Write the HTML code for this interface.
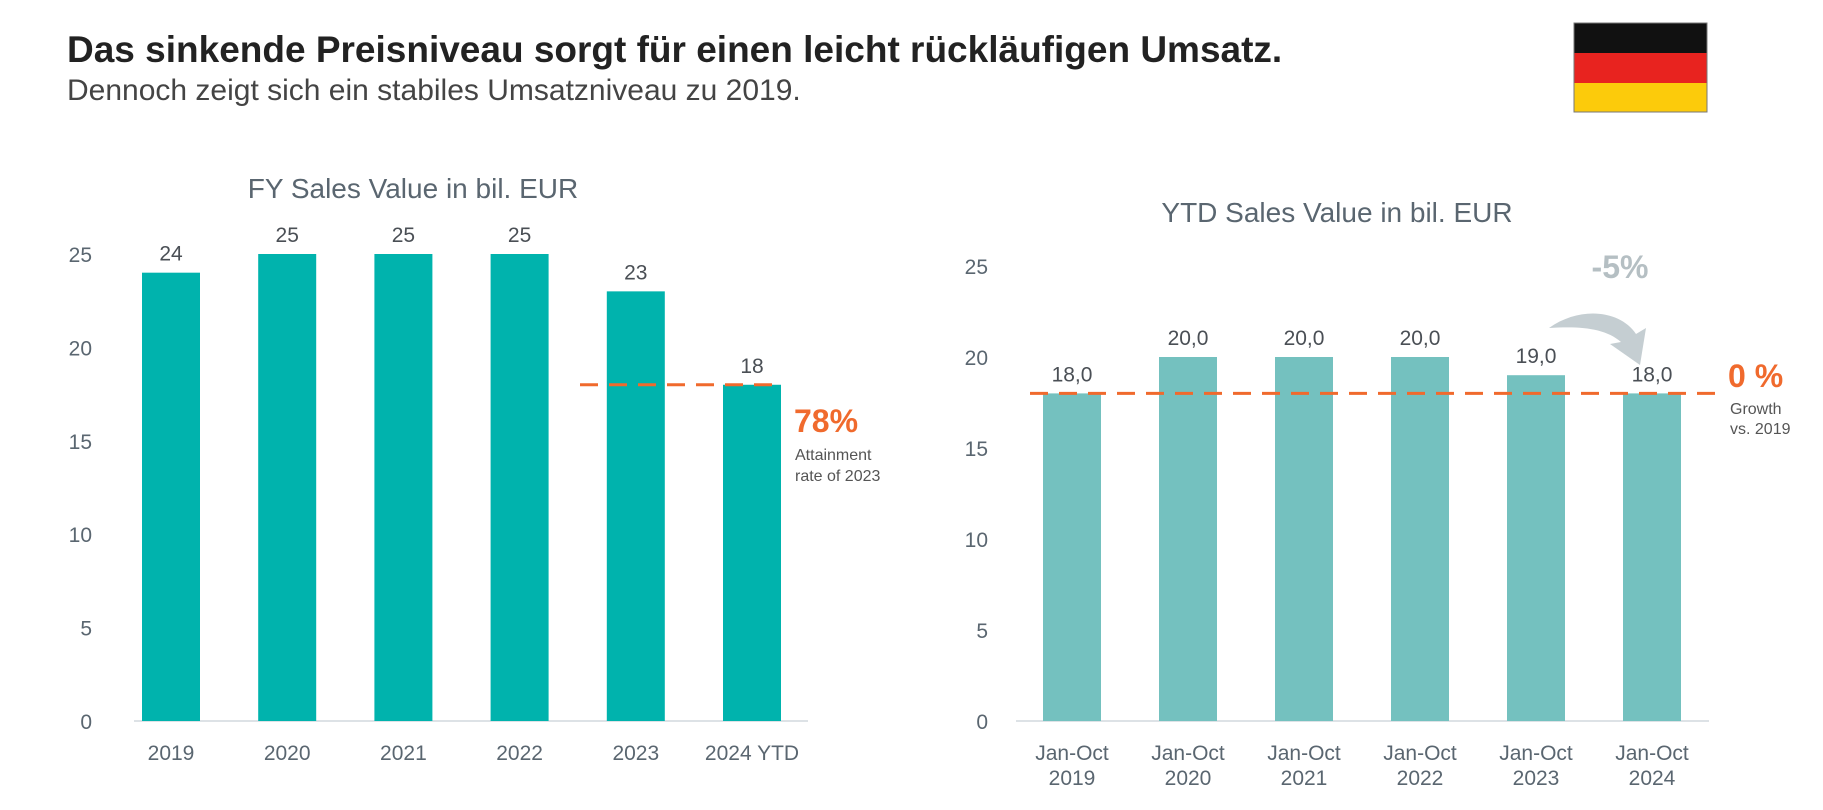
<!DOCTYPE html>
<html><head><meta charset="utf-8"><style>
body{margin:0;width:1823px;height:805px;background:#fff;overflow:hidden;font-family:"Liberation Sans",sans-serif}
svg text{font-family:"Liberation Sans",sans-serif}
</style></head><body>
<svg width="1823" height="805">
<text x="67" y="62" font-size="37" font-weight="bold" fill="#222">Das sinkende Preisniveau sorgt für einen leicht rückläufigen Umsatz.</text>
<text x="67" y="100" font-size="30" fill="#444">Dennoch zeigt sich ein stabiles Umsatzniveau zu 2019.</text>
<g>
<rect x="1574" y="23" width="133" height="30" fill="#111"/>
<rect x="1574" y="53" width="133" height="30" fill="#e8231f"/>
<rect x="1574" y="83" width="133" height="29" fill="#fccb0b"/>
<rect x="1574" y="23" width="133" height="89" fill="none" stroke="#777" stroke-width="1"/>
</g>
<g id="left"></g>
<g id="right"></g>
</svg>
<script>
const fyCategories=["2019","2020","2021","2022","2023","2024 YTD"];
const fyValues=[24,25,25,25,23,18];
const fyLabels=["24","25","25","25","23","18"];
const ytdCategories=[["Jan-Oct","2019"],["Jan-Oct","2020"],["Jan-Oct","2021"],["Jan-Oct","2022"],["Jan-Oct","2023"],["Jan-Oct","2024"]];
const ytdValues=[18,20,20,20,19,18];
const ytdLabels=["18,0","20,0","20,0","20,0","19,0","18,0"];
const yTicks=[0,5,10,15,20,25];
const NS="http://www.w3.org/2000/svg";
function mk(p,t,a,txt){const e=document.createElementNS(NS,t);for(const k in a)e.setAttribute(k,a[k]);if(txt!=null)e.textContent=txt;p.appendChild(e);return e;}
function chart(g,cfg){
  const y=v=>cfg.y0-(cfg.y0-cfg.y25)*v/25;
  const x=i=>cfg.x0+i*cfg.step;
  const t=mk(g,'text',{x:cfg.tx,y:cfg.ty,'font-size':28,fill:'#5a6670','text-anchor':'middle'},cfg.title);
  
  
  yTicks.forEach(v=>{const e=mk(g,'text',{x:cfg.yx,y:y(v)+8,'font-size':21,fill:'#5a6670','text-anchor':'end'},v);
    
    });
  const ax=mk(g,'line',{x1:cfg.bx1,x2:cfg.bx2,y1:cfg.y0,y2:cfg.y0,stroke:'#dde2e6','stroke-width':2});
  
  
  cfg.vals.forEach((v,i)=>{
    const r=mk(g,'rect',{x:x(i)-29,y:y(v),width:58,height:cfg.y0-y(v),fill:cfg.color});
    
    
    const l=mk(g,'text',{x:x(i),y:y(v)-12,'font-size':21,fill:'#4a4f55','text-anchor':'middle'},cfg.labels[i]);
    
    
    const c=cfg.cats[i];const lines=Array.isArray(c)?c:[c];
    lines.forEach((s,j)=>{const e=mk(g,'text',{x:x(i),y:cfg.cy+j*25,'font-size':21,fill:'#5a6670','text-anchor':'middle'},s);
      
      });
  });
  return {x,y};
}
const L=chart(document.getElementById('left'),{title:'FY Sales Value in bil. EUR',tx:413,ty:198,y0:721,y25:254,x0:171,step:116.2,yx:92,bx1:134,bx2:808,cy:760,vals:fyValues,labels:fyLabels,cats:fyCategories,color:'#00b3ad'});
const R=chart(document.getElementById('right'),{title:'YTD Sales Value in bil. EUR',tx:1337,ty:222,y0:721,y25:266,x0:1072,step:116,yx:988,bx1:1016,bx2:1709,cy:760,vals:ytdValues,labels:ytdLabels,cats:ytdCategories,color:'#74c1bf'});
const lg=document.getElementById('left'),rg=document.getElementById('right');
let d=mk(lg,'line',{x1:580,x2:783,y1:L.y(fyValues[5]),y2:L.y(fyValues[5]),stroke:'#f06a2d','stroke-width':3,'stroke-dasharray':'18,11'});


let e=mk(lg,'text',{x:794,y:432,'font-size':32,'font-weight':'bold',fill:'#f06a2d'},'78%');


e=mk(lg,'text',{x:795,y:460,'font-size':16,fill:'#555'},'Attainment');


e=mk(lg,'text',{x:795,y:481,'font-size':16,fill:'#555'},'rate of 2023');


d=mk(rg,'line',{x1:1030,x2:1716,y1:R.y(ytdValues[0]),y2:R.y(ytdValues[0]),stroke:'#f06a2d','stroke-width':3,'stroke-dasharray':'18,11'});


e=mk(rg,'text',{x:1728,y:387,'font-size':32,'font-weight':'bold',fill:'#f06a2d'},'0 %');


e=mk(rg,'text',{x:1730,y:414,'font-size':16,fill:'#555'},'Growth');


e=mk(rg,'text',{x:1730,y:434,'font-size':16,fill:'#555'},'vs. 2019');


e=mk(rg,'text',{x:1620,y:278,'font-size':32,'font-weight':'bold',fill:'#b5bfc3','text-anchor':'middle'},'-5%');


e=mk(rg,'path',{d:'M1549,328 C1580,306 1620,310 1636,334 L1646,328 L1640,365 L1610,344 L1621,342 C1605,328 1580,326 1549,328 Z',fill:'#c5ced2'});


</script>
</body></html>
